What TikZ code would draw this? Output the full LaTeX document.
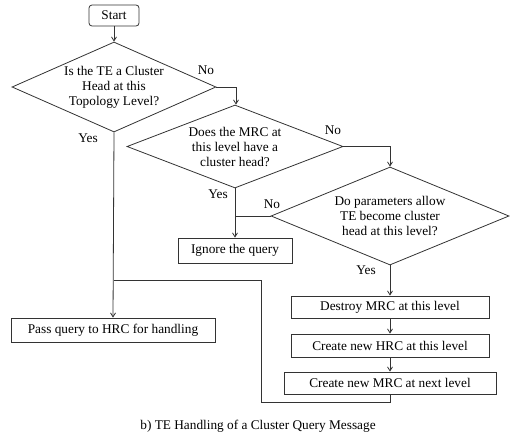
\documentclass[tikz,border=0pt]{standalone}
\usepackage{fontspec}
\setmainfont{Liberation Serif}
\usetikzlibrary{shapes.geometric,arrows.meta}
\begin{document}
\begin{tikzpicture}[x=1pt,y=-1pt,
  every node/.style={font=\fontsize{13.3}{15}\selectfont},
  line/.style={draw=black!80, line width=0.8pt},
  arr/.style={line, -{Straight Barb[length=4pt,width=5pt]}},
  stepbox/.style={draw=black!80, line width=0.8pt, rectangle, inner sep=0pt},
  dia/.style={draw=black!80, line width=0.8pt, diamond, inner sep=0pt},
  dtext/.style={align=center, inner sep=0pt},
  lbl/.style={inner sep=0pt}]
\useasboundingbox (0,0) rectangle (510,434);

\node[stepbox, rounded corners=3pt, minimum width=50, minimum height=21] (start) at (114,15.5) {Start};

\node[dia, minimum width=204, minimum height=90,
  label={[dtext]center:Is the TE a Cluster\\Head at this\\Topology Level?}] (d1) at (114,87) {};
\node[dia, minimum width=216, minimum height=83,
  label={[dtext]center:Does the MRC at\\this level have a\\cluster head?}] (d2) at (235,146.5) {};
\node[dia, minimum width=238, minimum height=98,
  label={[dtext]center:Do parameters allow\\TE become cluster\\head at this level?}] (d3) at (390,216) {};

\node[stepbox, minimum width=114, minimum height=25] (ign) at (235,250.5) {Ignore the query};
\node[stepbox, minimum width=204, minimum height=24] (pass) at (113,330) {Pass query to HRC for handling};
\node[stepbox, minimum width=198, minimum height=22] (destroy) at (390,307) {Destroy MRC at this level};
\node[stepbox, minimum width=198, minimum height=23] (hrc) at (390,345.5) {Create new HRC at this level};
\node[stepbox, minimum width=212, minimum height=22] (mrc) at (390,383) {Create new MRC at next level};

\coordinate (c1) at (236,87);
\coordinate (c2) at (390,146.5);
\coordinate (j1) at (235,216);
\coordinate (f1) at (390,402);
\coordinate (f2) at (261,402);
\coordinate (f3) at (261,280);
\coordinate (f4) at (114,280);

\draw[arr] (start.south) -- (d1.north);
\draw[arr] (d1.east) -- (c1) -- (c1 |- d2.north);
\draw[arr] (d1.south) -- (pass.north);
\draw[arr] (d2.east) -- (c2) -- (d3.north);
\draw[arr] (d2.south) -- (ign.north);
\draw[line] (d3.west) -- (j1);
\draw[arr] (d3.south) -- (destroy.north);
\draw[arr] (destroy.south) -- (hrc.north);
\draw[arr] (hrc.south) -- (mrc.north);
\draw[line] (mrc.south) -- (f1) -- (f2) -- (f3) -- (f4);

\node[lbl] (no1) at (206,70) {No};
\node[lbl] (yes1) at (88,138) {Yes};
\node[lbl] (no2) at (333,130) {No};
\node[lbl] (yes2) at (218,194) {Yes};
\node[lbl] (no3) at (272,204) {No};
\node[lbl] (yes3) at (366,270) {Yes};

\node[lbl] (cap) at (258,426) {b) TE Handling of a Cluster Query Message};
\end{tikzpicture}
\end{document}
